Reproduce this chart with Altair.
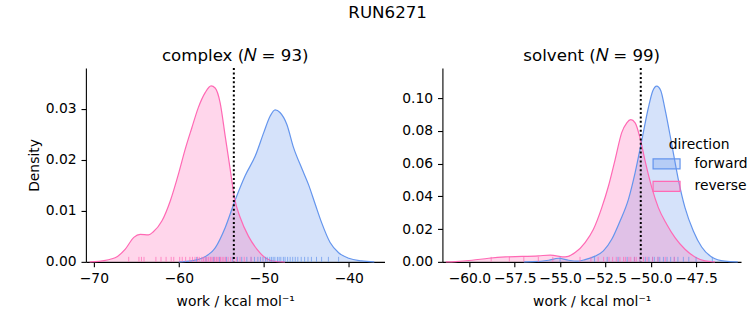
import altair as alt
import pandas as pd

SUPTITLE = "RUN6271"
DIRECTIONS = ["forward", "reverse"]
COLORS = ["#6495ED", "#FF69B4"]
FILLS = ["rgba(100,149,237,0.27)", "rgba(255,105,180,0.27)"]
X_TITLE = "work / kcal mol\u207b\u00b9"

# ---- complex panel: KDE curves ----
cx_fwd_x = [-60.0, -58.5, -57.3, -55.7, -54.55, -53.4, -52.2, -51.0, -50.0, -49.25, -48.67, -48.1,
            -47.3, -46.5, -45.5, -44.75, -43.95, -43.2, -42.2, -41.2, -40.0, -38.5, -37.0]
cx_fwd_y = [0.0, 0.0002, 0.0007, 0.0028, 0.0067, 0.012, 0.0169, 0.0208, 0.0254, 0.0286, 0.0298, 0.0293,
            0.027, 0.0224, 0.0182, 0.0152, 0.0113, 0.0077, 0.0038, 0.0018, 0.0007, 0.0002, 0.0]
cx_rev_x = [-70.5, -69.45, -67.5, -66.3, -65.3, -64.55, -63.57, -63.0, -62.0, -61.0, -60.0, -59.25,
            -58.47, -57.7, -56.9, -56.2, -55.73, -55.14, -54.55, -53.96, -53.45, -52.78, -51.8, -50.82,
            -49.84, -48.67, -47.5]
cx_rev_y = [0.0, 0.0001, 0.0008, 0.0025, 0.0048, 0.0054, 0.0053, 0.0059, 0.008, 0.012, 0.0175, 0.0221,
            0.0263, 0.0303, 0.0332, 0.0345, 0.0341, 0.0312, 0.0247, 0.0182, 0.0125, 0.0087, 0.005, 0.0025,
            0.0008, 0.0001, 0.0]
cx_fwd_rug = [-57.9, -56.8, -55.9, -55.2, -54.4, -53.7, -53.1, -52.6, -52.0, -51.5, -51.1, -50.7, -50.4,
              -50.1, -49.8, -49.6, -49.3, -49.1, -48.9, -48.7, -48.4, -48.2, -48.0, -47.7, -47.5, -47.2,
              -46.9, -46.6, -46.3, -46.0, -45.6, -45.2, -44.8, -44.4, -43.8, -43.2, -42.4, -41.2]
cx_rev_rug = [-65.9, -64.7, -64.4, -64.1, -62.7, -62.1, -61.5, -60.9, -60.6, -59.9, -59.6, -59.2, -58.7,
              -58.4, -58.1, -57.8, -57.6, -57.3, -57.1, -56.9, -56.7, -56.5, -56.3, -56.2, -56.0, -55.8,
              -55.6, -55.5, -55.3, -55.1, -54.9, -54.7, -54.5, -54.2, -53.9, -53.6, -53.2, -52.8, -52.3, -51.5]
cx_mark = [-53.53]

# ---- solvent panel ----
sv_fwd_x = [-57.0, -56.55, -55.63, -55.08, -54.53, -54.07, -53.62, -53.07, -52.61, -52.15, -51.69, -51.23,
            -50.86, -50.5, -50.13, -49.89, -49.67, -49.45, -49.21, -48.84, -48.48, -48.11, -47.65, -47.19,
            -46.64, -45.91, -45.2]
sv_fwd_y = [0.0, 0.0001, 0.001, 0.0022, 0.001, 0.0004, 0.0014, 0.0035, 0.0067, 0.0138, 0.025, 0.0382,
            0.0545, 0.0738, 0.0941, 0.1043, 0.1073, 0.1047, 0.0931, 0.0718, 0.0504, 0.0331, 0.0189, 0.0091,
            0.003, 0.0004, 0.0]
sv_rev_x = [-61.3, -60.77, -59.86, -58.94, -58.02, -57.1, -56.18, -55.54, -54.72, -54.17, -53.62, -53.16,
            -52.7, -52.33, -51.96, -51.6, -51.32, -51.1, -50.86, -50.57, -50.31, -49.94, -49.58, -49.12,
            -48.66, -48.11, -47.56, -47.01, -46.46]
sv_rev_y = [0.0, 0.0002, 0.001, 0.0022, 0.003, 0.0033, 0.0037, 0.0041, 0.003, 0.0057, 0.0118, 0.0199,
            0.0331, 0.0463, 0.0626, 0.0789, 0.0849, 0.0868, 0.0849, 0.0748, 0.0616, 0.0453, 0.0331, 0.023,
            0.0148, 0.0077, 0.003, 0.0006, 0.0]
sv_fwd_rug = [-55.0, -53.1, -52.4, -51.8, -51.3, -50.9, -50.6, -50.3, -50.1, -49.9, -49.8, -49.6, -49.5,
              -49.3, -49.1, -48.9, -48.7, -48.5, -48.2, -47.9, -47.5, -46.6]
sv_rev_rug = [-58.8, -57.8, -57.0, -56.2, -55.4, -53.9, -53.3, -52.9, -52.6, -52.3, -52.1, -51.9, -51.7,
              -51.5, -51.4, -51.2, -51.1, -50.9, -50.8, -50.6, -50.4, -50.2, -49.9, -49.6, -49.2, -48.7]
sv_mark = [-50.55]

W, H = 299, 194
FONT = "DejaVu Sans"

fill_scale = alt.Scale(domain=DIRECTIONS, range=FILLS)
stroke_scale = alt.Scale(domain=DIRECTIONS, range=COLORS)


def dens_frame(fx, fy, rx, ry):
    return pd.DataFrame({
        "work": list(fx) + list(rx),
        "density": list(fy) + list(ry),
        "direction": ["forward"] * len(fx) + ["reverse"] * len(rx),
    })


def rug_frame(f, r):
    return pd.DataFrame({
        "work": list(f) + list(r),
        "direction": ["forward"] * len(f) + ["reverse"] * len(r),
    })


def panel(dens, rug, mark, title, xdom, xticks, xfmt, ydom, yticks, ytitle, legend):
    x_axis = alt.Axis(values=xticks, format=xfmt, title=X_TITLE, labelOverlap=False)
    y_axis = alt.Axis(values=yticks, format=".2f", title=ytitle, labelOverlap=False,
                      tickCount=len(yticks))
    x_enc = alt.X("work:Q", scale=alt.Scale(domain=xdom, nice=False, zero=False), axis=x_axis)
    y_enc = alt.Y("density:Q", scale=alt.Scale(domain=ydom, nice=False, zero=False), axis=y_axis,
                  stack=None)
    area = alt.Chart(dens).mark_area(interpolate="monotone").encode(
        x=x_enc,
        y=y_enc,
        fill=alt.Fill("direction:N", scale=fill_scale, legend=legend, title="direction"),
    )
    line = alt.Chart(dens).mark_line(strokeWidth=1.2, interpolate="monotone").encode(
        x=x_enc,
        y=y_enc,
        stroke=alt.Stroke("direction:N", scale=stroke_scale, legend=legend, title="direction"),
    )
    rugs = alt.Chart(rug).mark_rule(strokeWidth=1, opacity=0.7).encode(
        x=x_enc,
        y=alt.value(H - 5),
        y2=alt.value(H),
        stroke=alt.Stroke("direction:N", scale=stroke_scale, legend=None),
    )
    rule = alt.Chart(pd.DataFrame({"work": mark})).mark_rule(
        color="black", strokeWidth=2, strokeDash=[2, 2.4]).encode(x=x_enc)
    return alt.layer(area, line, rugs, rule).properties(
        width=W, height=H,
        title=alt.Title(title, fontSize=16.7, fontWeight="normal", font=FONT, offset=2),
    )


left = panel(dens_frame(cx_fwd_x, cx_fwd_y, cx_rev_x, cx_rev_y), rug_frame(cx_fwd_rug, cx_rev_rug), cx_mark,
             "complex (\U0001D441 = 93)", [-70.94, -35.8], [-70, -60, -50, -40], ".0f",
             [0, 0.038], [0, 0.01, 0.02, 0.03], "Density", None)

legend = alt.Legend(orient="none", legendX=209, legendY=70, title="direction",
                    titleAnchor="middle", titleFontSize=13.9, titleFontWeight="normal",
                    labelFontSize=13.9, symbolType="M-2.7,-1H2.7V1H-2.7Z", symbolSize=100,
                    symbolOffset=8.5, symbolStrokeWidth=1.2, rowPadding=6.5, labelOffset=21,
                    titlePadding=5, padding=0)

right = panel(dens_frame(sv_fwd_x, sv_fwd_y, sv_rev_x, sv_rev_y), rug_frame(sv_fwd_rug, sv_rev_rug), sv_mark,
              "solvent (\U0001D441 = 99)", [-61.49, -45.02], [-60, -57.5, -55, -52.5, -50, -47.5], ".1f",
              [0, 0.1183], [0, 0.02, 0.04, 0.06, 0.08, 0.10], None, legend)

chart = alt.hconcat(left, right, spacing=17).resolve_scale(fill="independent", stroke="independent").properties(
    title=alt.Title(SUPTITLE, anchor="middle", fontSize=16.7, fontWeight="normal", font=FONT, offset=27),
    padding={"left": 27, "top": 4, "right": 5, "bottom": 5},
).configure(font=FONT).configure_view(stroke=None).configure_axis(
    grid=False, domainColor="black", tickColor="black", labelColor="black", titleColor="black",
    labelFontSize=13.9, titleFontSize=13.9, titleFontWeight="normal", labelFont=FONT, titleFont=FONT,
    tickSize=4.9, labelPadding=4.9, domainWidth=1.1, tickWidth=1.1, labelOverlap=False,
).configure_axisX(titlePadding=9).configure_axisY(titlePadding=4).configure_legend(
    labelColor="black", titleColor="black", labelFont=FONT, titleFont=FONT,
).configure_title(color="black")

chart.save("out.html", embed_options={"renderer": "svg", "actions": False})
